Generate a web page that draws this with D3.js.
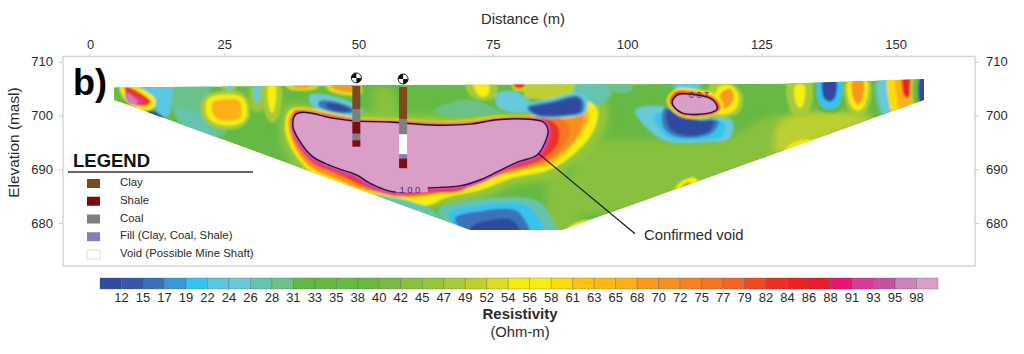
<!DOCTYPE html>
<html>
<head>
<meta charset="utf-8">
<script src="https://cdn.jsdelivr.net/npm/d3@7"></script>
<style>
  body { margin: 0; background: #fff; }
  text { font-family: "Liberation Sans", Arial, sans-serif; fill: #2b2b2b; }
</style>
</head>
<body>
<div id="chart"></div>
<script>
// Colour bar
var bandLabels = [12,15,17,19,22,24,26,28,31,33,35,38,40,42,45,47,49,52,54,56,58,61,63,65,68,70,72,75,77,79,82,84,86,88,91,93,95,98]
var bandColors = ['#2f4a9e','#3559a8','#3a72b8','#3b97d6','#38c2ee','#5cc7e2','#68cad8','#66c4ae','#6cc188','#62b845','#64b944','#66b943','#68b941','#7abc41','#88c13e','#95c63b','#a6cb37','#bdd030','#dcdc20','#f5ea14','#f9ee10','#fdda0d','#fdc30f','#fcb913','#fbb017','#f8981d','#f68f1f','#f58220','#f47521','#f26522','#ee4a24','#ed3024','#ed2024','#ec1c2e','#e9156f','#dd3a98','#c94fa0','#cd82bc','#d99fc8']

// Section outline, distance (m) / elevation (masl)
var sectionOutline = [[4.5,705.2],[52,705.7],[128.5,705.9],[155.3,706.8],[155.3,702.9],[87.9,678.7],[70.8,678.7],[4.5,702.9]]

// Broad tones, painted first and softened more than the rest
var zonesBackground = [
  { r: 43, pts: [[95,694.9],[102.4,695.4],[117.3,695.4],[128.5,700],[131,693],[112,685],[96,682],[90,682],[90,690]] },
  { r: 50, pts: [[130.4,700.1],[141.5,700.6],[145.8,699.7],[135.9,695.4],[130.4,692.6],[127.6,693.6],[128.1,698.2]] },
  { r: 44, pts: [[85.5,690],[90,688],[91,682],[89,677],[85,677],[85,684]] },
  { r: 44, pts: [[53,705],[56,705],[57,701],[55.5,699],[53.5,700]] }
]
var voidHalo = [[35.4,698.2],[36.5,702],[45,701.2],[58,700.2],[72,700.3],[84,700.8],[88,701.5],[90.5,704],[94,704.2],[96.5,701],[95,695.5],[90,691],[85,688],[79,687],[73,684.6],[65,683],[60,683],[50,683.5],[45,685.5],[40,688],[36,694]]

// Resistivity zones, painted from the back to the front
var zonesLeftEnd = [
  { r: 30, pts: [[15,707],[22,707],[22.5,702],[25.5,697.5],[24,696],[16,700]] },
  { r: 27, pts: [[16,701.5],[20,700.5],[22.5,698],[22,695],[17,698]] },
  { r: 25, pts: [[19.5,697],[24,695.5],[24,693],[19,695]] },
  { r: 38, pts: [[12.5,704.5],[13.5,704.5],[13.5,703],[12.5,703]] },
  { r: 23, pts: [[9,706.5],[15,706.5],[15.2,702.5],[14.5,699.8],[13,700.2],[11.5,702.5]] },
  { r: 38, pts: [[3,707],[6,707],[6,703],[3,702]] },
  { r: 57, pts: [[5.6,705.4],[8.2,705.5],[12.2,703],[11.6,701.2],[8.5,701.2],[6.2,703.4]] },
  { r: 82, pts: [[6.5,705.4],[8,705],[11.3,702.6],[10.7,701.9],[8.8,701.9],[7,703.4]] },
  { r: 91, pts: [[6.6,704.5],[8,703.8],[10,702.6],[9,701.8],[7,702.6]] },
  { r: 97, pts: [[6.9,704.2],[7.6,703.8],[8.9,702.4],[8.4,702],[7.1,702.9]] },
  { r: 11, pts: [[10.6,700.9],[12.4,700.6],[13.7,699.6],[11.8,699.7]] }
]
var zonesLeftTop = [
  { r: 46, pts: [[24.8,706],[27,706],[27,704],[25.9,703.5],[24.8,704]] },
  { r: 24, pts: [[25.4,706],[26.3,706],[26.2,704.4],[25.7,704.4]] },
  { r: 46, pts: [[30,706],[32.3,706],[32.3,701.5],[31.1,700.5],[30,701.5]] },
  { r: 24, pts: [[30.6,706],[31.6,706],[31.6,703],[31.1,702.2],[30.6,703]] },
  { r: 48, pts: [[32.5,706],[35.4,706],[35.2,700],[33.9,698.6],[32.7,700]] },
  { r: 57, pts: [[33.3,706],[34.4,706],[34.4,701.4],[33.9,700.5],[33.4,701.4]] },
  { r: 48, pts: [[21,703],[23.5,704.4],[28.3,704.2],[29.6,702.5],[29.6,699.3],[27.8,697.7],[23.6,697.7],[21,699.6]] },
  { r: 57, pts: [[21.8,702.9],[23.8,703.8],[27.9,703.6],[29,702.5],[29,699.5],[27.6,698.4],[23.8,698.4],[21.8,699.9]] },
  { r: 66, pts: [[22.9,702.5],[24.2,702.9],[27.6,702.9],[28.1,702.1],[28.1,699.9],[27.2,699.2],[24.2,699.2],[22.9,700.3]] },
  { r: 52, pts: [[36,706.5],[43,706.5],[42,705],[37,705]] },
  { r: 68, pts: [[37,706.5],[42,706.5],[41,705.3],[38,705.3]] },
  { r: 52, pts: [[44,706.5],[50,706.5],[50.5,704],[44.5,704.6]] },
  { r: 68, pts: [[44.5,706.5],[49.5,706.5],[49.5,704.6],[45.5,705]] },
  { r: 24, pts: [[41,703.8],[46,703.4],[50.8,701],[49,699.9],[44,700.2],[41,702.3]] },
  { r: 16, pts: [[42.8,702.7],[46,702.5],[49.5,700.9],[48,700.4],[44,701],[42.5,702]] },
  { r: 11, pts: [[44,702.2],[46.5,702],[48.7,700.9],[46,700.8],[44.4,701.4]] }
]
var zonesBottom = [
  { r: 27, pts: [[54.5,686],[60,686],[62.5,683.5],[65.5,680.5],[65,678.5],[52,682]] },
  { r: 27, pts: [[64.8,682.4],[70.8,684.3],[82.9,684.3],[85.7,681.5],[86.8,677.5],[70.8,677.5]] },
  { r: 21, pts: [[66.7,681.8],[72.6,683.3],[81,683.3],[83.4,681.1],[84.7,677.5],[70.8,677.5]] },
  { r: 16, pts: [[68,680.9],[72.6,682.2],[79.1,682.4],[81,680.5],[81.9,677.5],[70.8,677.5]] },
  { r: 11, pts: [[71.2,679.4],[74.5,680.5],[78.2,680.7],[79.7,679.4],[80.1,677.5],[70.8,677.5]] },
  { r: 57, pts: [[88.4,678],[89.7,679.6],[93,680.5],[93.4,678]] },
  { r: 68, pts: [[89.4,678],[90.3,679.2],[92.6,680],[92.6,678]] },
  { r: 84, pts: [[88.6,678],[90.1,678.9],[91.6,678.9],[92,678]] }
]
var zonesMiddleTop = [
  { r: 29, pts: [[64,701],[70,703],[74,702],[76.5,700.5],[72,700],[66,700]] },
  { r: 48, pts: [[70,706.5],[75.5,706.5],[75.5,703.5],[73,702.8],[70.5,704]] },
  { r: 57, pts: [[71.5,706.5],[74,706.5],[74.2,704],[73,703.5],[72,704.2]] },
  { r: 52, pts: [[78.5,706.5],[81.5,706.5],[81.2,704.8],[79,704.8]] },
  { r: 82, pts: [[78.8,706.5],[81,706.5],[80.7,705.2],[79.2,705.2]] },
  { r: 49, pts: [[81,705.6],[91,705.6],[91,703.6],[84,703],[81,703.6]] },
  { r: 25, pts: [[76,704.2],[79,704.5],[82,702.5],[82,701],[79,700.6],[76,701.5],[75.5,703]] },
  { r: 27, pts: [[91,706.5],[96,706.5],[97,704],[95,702],[91,702.5],[90,704]] },
  { r: 29, pts: [[96,706.5],[101,706.5],[101,704.8],[97,704.5]] }
]
// Blue lens right of the borehole sits on top of the void's fan
var zonesBlueLens = [
  { r: 24, pts: [[80.8,701.8],[86,703.2],[90.8,704.2],[92.6,703],[92.2,700.4],[88.5,699.6],[83,699.8]] },
  { r: 16, pts: [[81.4,701.5],[86.2,702.7],[90.7,703.7],[91.9,702.7],[91.7,700.6],[88.5,699.9],[83.1,700]] },
  { r: 11, pts: [[81.9,701.3],[86.2,702.3],[90.7,703.2],[91.4,702.5],[91.2,700.8],[88.5,700.1],[83.2,700.3]] }
]
var zonesRight = [
  { r: 25, pts: [[101.5,701],[106.7,701.7],[111,699.5],[119.5,699.2],[119.2,695.8],[113.6,695],[107,695.3],[103.4,698]] },
  { r: 21, pts: [[105,700],[108,700.5],[112,698.7],[118,698.8],[117.8,696.2],[113,695.5],[108,695.8],[106,697.5]] },
  { r: 16, pts: [[107,701.4],[110,700.2],[112,699],[117,699],[116,696.9],[111.7,695.8],[108,696.6],[106.6,698.5]] },
  { r: 11, pts: [[107.6,701],[109.9,700],[113.6,699.1],[116,699.1],[115.5,697.2],[111.7,696.2],[108.5,697.1],[107.4,699]] },
  { r: 22, pts: [[108.6,706.2],[114,706.2],[113.5,705.2],[109,705.2]] },
  { r: 47, pts: [[115.5,706],[119.5,706],[121.6,703.5],[120.8,700.5],[116,699.9]] },
  { r: 57, pts: [[117,705.2],[119.3,705.6],[120.8,703.5],[120,701],[116.8,700.4]] },
  { r: 69, pts: [[117.4,704],[119.3,705],[119.9,703.3],[119,701.7],[117.3,701.3]] },
  { r: 48, pts: [[130,706.5],[134.5,706.5],[134,701],[132.2,699.5],[130.4,701]] },
  { r: 57, pts: [[131.3,705.6],[133,705.6],[132.9,702.3],[132.2,701.4],[131.5,702.3]] },
  { r: 31, pts: [[134.9,706.5],[140.5,706.5],[140,701.2],[137.7,700.5],[135.5,701.2]] },
  { r: 21, pts: [[135.6,706.5],[139.8,706.5],[139.4,702],[137.7,701.2],[136,702]] },
  { r: 11, pts: [[136.5,706.5],[138.9,706.5],[138.7,703.2],[137.7,702.6],[136.7,703.2]] },
  { r: 48, pts: [[140.8,706.5],[145.2,706.5],[144.8,701.2],[143,699.9],[141.2,701.2]] },
  { r: 57, pts: [[141.3,706.5],[144.6,706.5],[144.3,702],[143,700.9],[141.6,702]] },
  { r: 68, pts: [[142,706.5],[144,706.5],[143.8,703],[143,702],[142.2,703]] },
  { r: 27, pts: [[146.5,706.5],[150,706.5],[150.5,702],[148.5,699],[146.8,701.5]] },
  { r: 24, pts: [[147,706.5],[149,706.5],[149.6,702],[148.2,700.2],[147.2,702]] },
  { r: 58, pts: [[148.8,707.5],[154,707.5],[154.2,702],[149.5,700.5],[148.9,702]] },
  { r: 65, pts: [[150.2,707.5],[153.2,707.5],[153.2,702.8],[151,701],[150.3,703]] },
  { r: 84, pts: [[151.4,707.5],[152.9,707.5],[152.8,704],[152.1,703.3],[151.5,704]] },
  { r: 50, pts: [[153.1,707.5],[153.9,707.5],[153.9,702],[153.1,702]] },
  { r: 36, pts: [[153.7,707.5],[154.9,707.5],[154.9,702],[153.7,702]] },
  { r: 11, pts: [[154.7,707.5],[156,707.5],[156,702],[154.7,702]] },
  { r: 54, pts: [[128,691],[131,695],[136,695],[139,691.5]] },
  { r: 60, pts: [[128.8,692.5],[131,694.2],[135,694],[136,692]] },
  { r: 72, pts: [[130.4,692.6],[132,693.9],[134.5,693.9],[134,692.5]] },
  { r: 57, pts: [[109,686],[109.9,687.6],[112.7,688.4],[113.6,686]] },
  { r: 70, pts: [[110,686],[110.4,687.1],[111.7,687.6],[112,686]] }
]

// Confirmed void and the rings around it
var voidOutline = [[38.2,700.1],[39.7,700.6],[45.3,699.5],[49,699],[55.9,698.8],[58.3,698.6],[64.6,698.2],[70.8,698.4],[75.8,699.2],[81.9,699.3],[84.4,698.8],[85.3,697.3],[84.7,694.9],[83.2,692.6],[79.5,691.3],[75.8,689.5],[72.6,688],[68.9,686.9],[62.8,686.5],[56.4,685.8],[52.1,687.4],[49.7,688.9],[46,690.2],[41.5,692.3],[38.7,695.8],[37.8,697.9]]
var voidRings = [
  { r: 57, pts: [[36.3,698.2],[37.2,701],[39.7,701.5],[45.6,700.4],[49.3,699.7],[57.7,699.3],[65.2,698.9],[70.8,699.2],[75.8,699.9],[81.9,700],[88,699.9],[90.6,700.4],[91.6,702.6],[93.1,702.5],[94.6,700.8],[93.6,696.8],[90.3,693],[87,690.6],[84.4,689.5],[78.8,688.4],[72.6,686.1],[66.5,684.8],[62.8,683.3],[59,684.3],[55.3,685],[50.3,685.8],[45.6,687.4],[40.6,689.9],[37.2,694.5]] },
  { r: 63, pts: [[85,699.6],[90.3,700],[92,701.8],[93,700],[92.2,697.7],[89,693.6],[85,690.5],[80,693]] },
  { r: 70, pts: [[37,699],[37.8,700.6],[39.7,701.2],[45.6,700.1],[49.3,699.5],[57.7,699.1],[65.2,698.7],[70.8,699],[75.8,699.7],[81.9,699.8],[86,699.4],[90,699.6],[91.6,701],[92,699.5],[90.6,695.8],[86.8,692.3],[82,690.2],[76.4,688.9],[70.8,686.9],[65.2,685.6],[60.5,684.8],[55.9,685.4],[51.2,686.1],[46.2,688],[41,690.4],[37.8,694.9]] },
  { r: 76, pts: [[85.3,699.4],[88,699.3],[89.3,697.5],[88.2,694.5],[83.8,691],[80,693]] },
  { r: 82, pts: [[37.4,698.6],[38.2,701],[39.7,700.8],[45.6,699.9],[49.3,699.3],[57.7,699],[65.2,698.6],[70.8,698.8],[75.8,699.5],[81.9,699.7],[85.3,699.3],[87.2,697.7],[87,694.5],[83.4,691.5],[78.2,689.9],[72.6,688],[68.9,685.9],[63.3,685.6],[56.8,685],[51.8,686.5],[46.6,688.9],[41.3,691.3],[38.2,695.4]] },
  { r: 92, pts: [[37.5,697.9],[38,700.5],[39.7,700.8],[45.3,699.7],[49,699.2],[55.9,699],[58.3,698.8],[64.6,698.4],[70.8,698.6],[75.8,699.4],[81.9,699.5],[85,699],[85.9,697.3],[85.4,694.7],[83.7,692.2],[79.8,690.7],[76,689],[72.8,687.4],[69,686.3],[62.8,685.9],[56.4,685.2],[51.6,686.8],[49.3,688.3],[45.6,689.6],[41,691.8],[38.2,695.6]] }
]
var smallVoidOutline = [[108.4,702.3],[109.3,703.8],[111.7,704],[116,702.9],[116.8,701.2],[115.5,700.5],[110.2,700.5]]
var smallVoidRings = [
  { r: 57, pts: [[107.4,702.6],[108.8,704.8],[112,705],[116.5,703.9],[118,701.5],[116,700],[110,699.8]] },
  { r: 84, pts: [[107.9,702.5],[109,704.4],[111.8,704.5],[116.3,703.3],[117.4,701.3],[115.7,700.2],[110.1,700.2]] }
]

// Boreholes: distance, marker elevation, then layer tops and bottoms
var boreholes = [
  { dist: 49.6, marker: 707.0, layers: [['Clay',705.5,701.2],['Coal',701.2,698.8],['Shale',698.8,696.6],['Coal',696.6,695.4],['Shale',695.4,694.2]] },
  { dist: 58.3, marker: 706.8, layers: [['Clay',705.3,699.3],['Coal',699.3,696.5],['Void',696.5,692.8],['Fill',692.8,692],['Shale',692,690.2]] }
]
var legendItems = [
  ['Clay', 'Clay', '#7d4a1e'],
  ['Shale', 'Shale', '#7c0c14'],
  ['Coal', 'Coal', '#7f7f7f'],
  ['Fill', 'Fill (Clay, Coal, Shale)', '#8080be'],
  ['Void', 'Void (Possible Mine Shaft)', '#ffffff']
]

var xTicks = [0, 25, 50, 75, 100, 125, 150]
var yTicks = [680, 690, 700, 710]

var svg = d3.select('#chart').append('svg').attr('width', 1024).attr('height', 354).style('display', 'block')

var x = d3.scaleLinear().domain([-5.03, 164.8]).range([63, 975])
var y = d3.scaleLinear().domain([672, 711]).range([266, 56.4])
var color = d3.scaleThreshold().domain(bandLabels).range(bandColors)
var layerColor = {}
legendItems.forEach(function (d) { layerColor[d[0]] = d[2] })

var blob = d3.line().x(function (d) { return x(d[0]) }).y(function (d) { return y(d[1]) }).curve(d3.curveCatmullRomClosed.alpha(0.5))
var straight = d3.line().x(function (d) { return x(d[0]) }).y(function (d) { return y(d[1]) }).curve(d3.curveLinearClosed)

var defs = svg.append('defs')
defs.append('clipPath').attr('id', 'section-clip').append('path').attr('d', straight(sectionOutline))
defs.append('filter').attr('id', 'soft').attr('x', '-5%').attr('y', '-5%').attr('width', '110%').attr('height', '110%')
  .append('feGaussianBlur').attr('stdDeviation', 1)
defs.append('filter').attr('id', 'softer').attr('x', '-5%').attr('y', '-5%').attr('width', '110%').attr('height', '110%')
  .append('feGaussianBlur').attr('stdDeviation', 3.5)

// Frame and axes
svg.append('rect').attr('x', 63).attr('y', 56.4).attr('width', 912).attr('height', 209.6)
  .attr('fill', 'none').attr('stroke', '#d2d2d2').attr('stroke-width', 1.4)

function styleAxis(g) {
  g.select('.domain').remove()
  g.selectAll('.tick line').attr('stroke', '#cfcfcf')
  g.selectAll('.tick text').style('font-size', '13px').attr('fill', '#333')
}
svg.append('g').attr('transform', 'translate(0,56.4)')
  .call(d3.axisTop(x).tickValues(xTicks).tickSize(3).tickPadding(4.4)).call(styleAxis)
svg.append('g').attr('transform', 'translate(63,0)')
  .call(d3.axisLeft(y).tickValues(yTicks).tickSize(4).tickPadding(6)).call(styleAxis)
svg.append('g').attr('transform', 'translate(975,0)')
  .call(d3.axisRight(y).tickValues(yTicks).tickSize(4).tickPadding(7)).call(styleAxis)

svg.append('text').attr('x', 523).attr('y', 24).attr('text-anchor', 'middle').style('font-size', '14.8px').text('Distance (m)')
svg.append('text').attr('transform', 'translate(19,142.5) rotate(-90)').attr('text-anchor', 'middle').style('font-size', '15.4px').text('Elevation (masl)')

// Section
var clipped = svg.append('g').attr('clip-path', 'url(#section-clip)')
clipped.append('path').attr('d', straight(sectionOutline)).attr('fill', color(36))

var broad = clipped.append('g').attr('filter', 'url(#softer)')
broad.selectAll('path').data(zonesBackground.concat([{ r: 45, pts: voidHalo }])).enter().append('path')
  .attr('d', function (z) { return blob(z.pts) })
  .attr('fill', function (z) { return color(z.r) })

var section = clipped.append('g').attr('filter', 'url(#soft)')
var zones = [].concat(zonesLeftEnd, zonesLeftTop, zonesBottom, zonesMiddleTop, voidRings, zonesBlueLens, zonesRight, smallVoidRings)
section.selectAll('path.zone').data(zones).enter().append('path')
  .attr('class', 'zone')
  .attr('d', function (z) { return blob(z.pts) })
  .attr('fill', function (z) { return color(z.r) })

section.append('path').attr('d', blob(voidOutline)).attr('fill', color(100))
section.append('path').attr('d', blob(smallVoidOutline)).attr('fill', color(100))

var contours = svg.append('g').attr('clip-path', 'url(#section-clip)')
contours.append('path').attr('d', blob(voidOutline)).attr('fill', 'none').attr('stroke', '#2d0f3f').attr('stroke-width', 1.4)
contours.append('path').attr('d', blob(smallVoidOutline)).attr('fill', 'none').attr('stroke', '#2d0f3f').attr('stroke-width', 1.4)

// Contour labels
svg.append('rect').attr('x', x(56.9)).attr('y', y(687)).attr('width', x(62.9) - x(56.9)).attr('height', 7).attr('fill', color(100))
svg.append('text').attr('x', x(59.8)).attr('y', y(685.6)).attr('text-anchor', 'middle').style('font-size', '9.5px').style('letter-spacing', '2.4px').style('fill', '#5a2a78').text('100')
svg.append('text').attr('transform', 'translate(' + x(113.2) + ',' + y(704.4) + ') rotate(180)').attr('text-anchor', 'middle').style('font-size', '9.5px').style('letter-spacing', '2.4px').style('fill', '#5a2a78').text('100')

// Boreholes
boreholes.forEach(function (b) {
  var g = svg.append('g')
  var cx = x(b.dist)
  g.selectAll('rect').data(b.layers).enter().append('rect')
    .attr('x', cx - 4).attr('width', 8)
    .attr('y', function (d) { return y(d[1]) })
    .attr('height', function (d) { return y(d[2]) - y(d[1]) })
    .attr('fill', function (d) { return layerColor[d[0]] })
  var m = g.append('g').attr('transform', 'translate(' + cx + ',' + y(b.marker) + ')')
  m.append('circle').attr('r', 5).attr('fill', '#fff').attr('stroke', '#222').attr('stroke-width', 1)
  m.append('path').attr('d', 'M0,0L5,0A5,5 0 0 1 0,5ZM0,0L-5,0A5,5 0 0 1 0,-5Z').attr('fill', '#111')
})

// Leader line
svg.append('line').attr('x1', x(83.4)).attr('y1', y(693)).attr('x2', x(101.5)).attr('y2', y(678))
  .attr('stroke', '#1a1a1a').attr('stroke-width', 1.2)
svg.append('text').attr('x', 644).attr('y', 240).style('font-size', '14.8px').text('Confirmed void')

svg.append('text').attr('x', 73).attr('y', 95).style('font-size', '36px').style('font-weight', 'bold').style('fill', '#000').text('b)')

// Legend
svg.append('text').attr('x', 73).attr('y', 167).style('font-size', '18.5px').style('font-weight', 'bold').style('fill', '#111').text('LEGEND')
svg.append('line').attr('x1', 68).attr('x2', 253).attr('y1', 172).attr('y2', 172).attr('stroke', '#333').attr('stroke-width', 1.3)
var legendRow = d3.scalePoint().domain(legendItems.map(function (d) { return d[0] })).range([183.5, 254.5])
var legend = svg.append('g').selectAll('g').data(legendItems).enter().append('g')
  .attr('transform', function (d) { return 'translate(87,' + legendRow(d[0]) + ')' })
legend.append('rect').attr('y', -4.5).attr('width', 13).attr('height', 9)
  .attr('fill', function (d) { return d[2] })
  .attr('stroke', function (d) { return d[0] === 'Void' ? '#ddd' : 'none' })
legend.append('text').attr('x', 33).attr('y', 2.5).style('font-size', '11.4px').text(function (d) { return d[1] })

// Colour bar
var barX = d3.scaleBand().domain(d3.range(bandColors.length)).range([100, 938])
svg.append('g').selectAll('rect').data(bandColors).enter().append('rect')
  .attr('x', function (d, i) { return barX(i) }).attr('y', 278).attr('width', barX.bandwidth()).attr('height', 11)
  .attr('fill', function (d) { return d }).attr('stroke', '#555').attr('stroke-opacity', 0.45).attr('stroke-width', 0.7)
svg.append('g').selectAll('text').data(bandLabels).enter().append('text')
  .attr('x', function (d, i) { return barX(i + 1) }).attr('y', 301.5).attr('text-anchor', 'middle')
  .style('font-size', '13px').text(function (d) { return d })
svg.append('text').attr('x', 520).attr('y', 319).attr('text-anchor', 'middle').style('font-size', '15px').style('font-weight', 'bold').text('Resistivity')
svg.append('text').attr('x', 520).attr('y', 337).attr('text-anchor', 'middle').style('font-size', '14.8px').text('(Ohm-m)')
</script>
</body>
</html>
